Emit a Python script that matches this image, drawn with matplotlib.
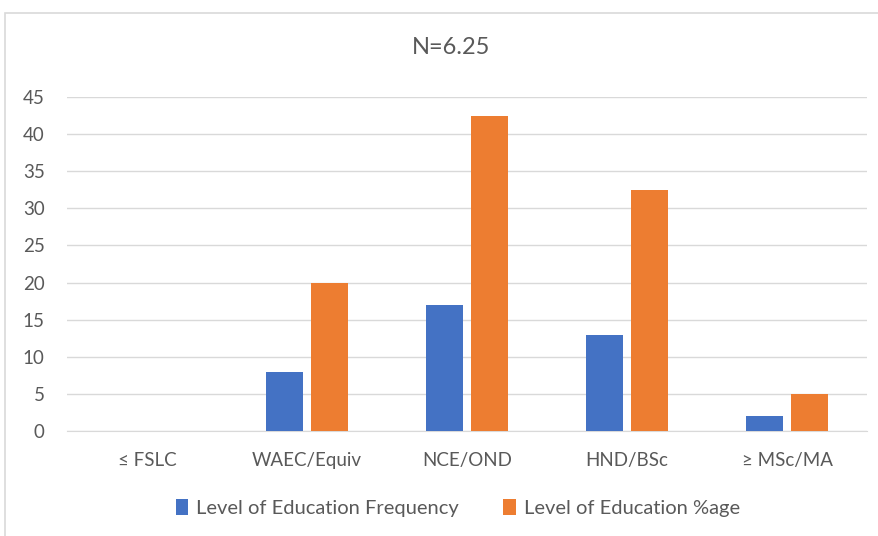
import matplotlib
matplotlib.use("Agg")
import matplotlib.pyplot as plt
from matplotlib.patches import Rectangle
import numpy as np

categories = ["≤ FSLC", "WAEC/Equiv", "NCE/OND", "HND/BSc", "≥ MSc/MA"]
frequency = [0, 8, 17, 13, 2]
percentage = [0, 20, 42.5, 32.5, 5]
series_names = ["Level of Education Frequency", "Level of Education %age"]
title = "N=6.25"
y_ticks = [0, 5, 10, 15, 20, 25, 30, 35, 40, 45]

plt.rcParams["font.family"] = ["Lato", "DejaVu Sans"]
text_color = "#595959"
blue = "#4472C4"
orange = "#ED7D31"

fig = plt.figure(figsize=(8.79, 5.36), dpi=100)
fig.patch.set_facecolor("white")

# light chart-area frame
fig.patches.append(Rectangle((5 / 879, -0.05), 1.1, 1 - 13 / 536 + 0.05,
                             transform=fig.transFigure, fill=False,
                             edgecolor="#d9d9d9", linewidth=1.2))

ax = fig.add_axes([67 / 879, 105 / 536, 800 / 879, 334 / 536])
x = np.arange(len(categories))
w = 0.23
off = w / 2 + 0.028
ax.bar(x - off, frequency, w, color=blue, label=series_names[0], zorder=3)
ax.bar(x + off, percentage, w, color=orange, label=series_names[1], zorder=3)

ax.set_xlim(-0.5, len(categories) - 0.5)
ax.set_ylim(0, 45)
ax.set_yticks(y_ticks)
ax.set_xticks(x)
ax.set_xticklabels(categories)
ax.yaxis.grid(True, color="#d9d9d9", linewidth=1.0, zorder=0)
ax.set_axisbelow(True)
for s in ax.spines.values():
    s.set_visible(False)
ax.spines["bottom"].set_visible(True)
ax.spines["bottom"].set_color("#d9d9d9")
ax.tick_params(axis="both", length=0, colors=text_color, labelsize=13.5)
ax.tick_params(axis="x", pad=15)
ax.tick_params(axis="y", pad=16)

fig.text(0.5 + 12 / 879, 1 - 47 / 536, title, ha="center", va="center",
         fontsize=17, color=text_color)

leg = fig.legend(loc="center", bbox_to_anchor=(458 / 879, 1 - 508 / 536), ncol=2,
                 frameon=False, fontsize=14.5, handlelength=0.6, handleheight=0.8,
                 columnspacing=2.2, handletextpad=0.4)
for t in leg.get_texts():
    t.set_color(text_color)

fig.savefig("out.png", dpi=100)
